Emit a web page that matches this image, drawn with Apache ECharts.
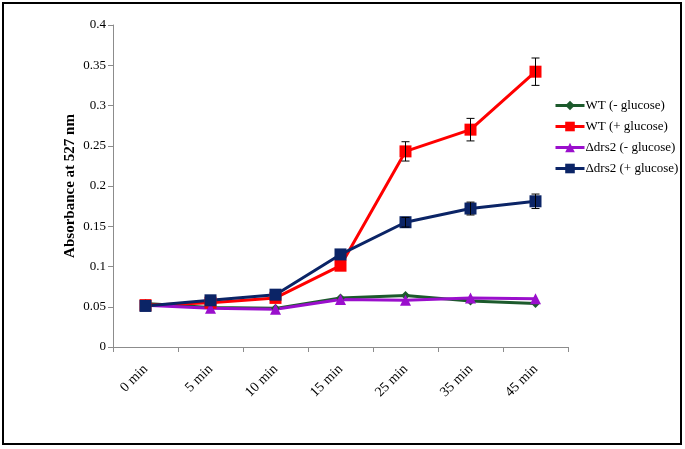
<!DOCTYPE html>
<html>
<head>
<meta charset="utf-8">
<script src="https://cdn.jsdelivr.net/npm/echarts@6/dist/echarts.min.js"></script>
<style>
  html, body { margin: 0; padding: 0; background: #fff; }
  #chart { width: 685px; height: 449px; }
</style>
</head>
<body>
<div id="chart"></div>
<script>
const categories = ['0 min', '5 min', '10 min', '15 min', '25 min', '35 min', '45 min']
const yTicks = [0, 0.05, 0.1, 0.15, 0.2, 0.25, 0.3, 0.35, 0.4]

const wtMinus = [0.054, 0.049, 0.048, 0.061, 0.064, 0.057, 0.054]
const wtPlus = [0.052, 0.055, 0.061, 0.101, 0.243, 0.270, 0.342]
const drsMinus = [0.052, 0.048, 0.047, 0.059, 0.058, 0.061, 0.060]
const drsPlus = [0.051, 0.058, 0.065, 0.115, 0.155, 0.172, 0.181]

// error bar half-widths, null where none is drawn
const wtPlusErr = [null, null, null, null, 0.012, 0.014, 0.017]
const drsPlusErr = [null, null, null, null, 0.006, 0.008, 0.009]

const font = '"Liberation Serif", "Times New Roman", serif'

function lineSeries(name, data, color, symbol, size) {
  return {
    name,
    type: 'line',
    data,
    symbol,
    symbolSize: size,
    showSymbol: true,
    itemStyle: { color },
    lineStyle: { color, width: 3 },
    emphasis: { disabled: true },
    z: 3,
  }
}

function errorSeries(values, errors) {
  const data = []
  values.forEach((v, i) => {
    if (errors[i] != null) data.push([i, v - errors[i], v + errors[i]])
  })
  return {
    type: 'custom',
    data,
    z: 5,
    silent: true,
    renderItem(params, api) {
      const x = api.value(0)
      const lo = api.coord([x, api.value(1)])
      const hi = api.coord([x, api.value(2)])
      const cap = 4
      const style = { stroke: '#000', lineWidth: 1 }
      return {
        type: 'group',
        children: [
          { type: 'line', shape: { x1: lo[0], y1: lo[1], x2: hi[0], y2: hi[1] }, style },
          { type: 'line', shape: { x1: lo[0] - cap, y1: lo[1], x2: lo[0] + cap, y2: lo[1] }, style },
          { type: 'line', shape: { x1: hi[0] - cap, y1: hi[1], x2: hi[0] + cap, y2: hi[1] }, style },
        ],
      }
    },
  }
}

const chart = echarts.init(document.getElementById('chart'))

chart.setOption({
  animation: false,
  textStyle: { fontFamily: font },
  graphic: [
    {
      type: 'rect',
      shape: { x: 3, y: 3, width: 678, height: 441 },
      style: { fill: 'none', stroke: '#000', lineWidth: 2 },
      silent: true,
    },
  ],
  grid: { left: 113, right: 117, top: 25, bottom: 102 },
  legend: {
    orient: 'vertical',
    left: 549,
    top: 94,
    itemWidth: 29,
    itemHeight: 12,
    itemGap: 8,
    lineStyle: { width: 3 },
    textStyle: { fontFamily: font, fontSize: 13, color: '#000', padding: [0, 0, 0, -4] },
    data: ['WT (- glucose)', 'WT (+ glucose)', 'Δdrs2 (- glucose)', 'Δdrs2 (+ glucose)'],
  },
  xAxis: {
    type: 'category',
    data: categories,
    boundaryGap: true,
    axisLine: { lineStyle: { color: '#8c8c8c', width: 1 } },
    axisTick: { show: true, length: 5, lineStyle: { color: '#8c8c8c' } },
    axisLabel: { rotate: 45, margin: 20, fontSize: 14, color: '#000', fontFamily: font },
  },
  yAxis: {
    type: 'value',
    min: 0,
    max: 0.4,
    interval: 0.05,
    name: 'Absorbance at 527 nm',
    nameLocation: 'middle',
    nameGap: 35,
    nameMoveOverlap: false,
    nameTextStyle: { fontFamily: font, fontSize: 15, fontWeight: 'bold', color: '#000' },
    axisLine: { show: true, lineStyle: { color: '#8c8c8c', width: 1 } },
    axisTick: { show: true, length: 5, lineStyle: { color: '#8c8c8c' } },
    splitLine: { show: false },
    axisLabel: {
      margin: 7,
      fontSize: 13,
      color: '#000',
      fontFamily: font,
      formatter: (v) => (yTicks.some((t) => Math.abs(t - v) < 1e-9) ? String(+v.toFixed(2)) : ''),
    },
  },
  series: [
    lineSeries('WT (- glucose)', wtMinus, '#1c5a2c', 'diamond', 9),
    lineSeries('WT (+ glucose)', wtPlus, '#ff0000', 'rect', 12),
    lineSeries('Δdrs2 (- glucose)', drsMinus, '#9a0fcc', 'triangle', 11),
    lineSeries('Δdrs2 (+ glucose)', drsPlus, '#0b2466', 'rect', 12),
    errorSeries(wtPlus, wtPlusErr),
    errorSeries(drsPlus, drsPlusErr),
  ],
})
</script>
</body>
</html>
